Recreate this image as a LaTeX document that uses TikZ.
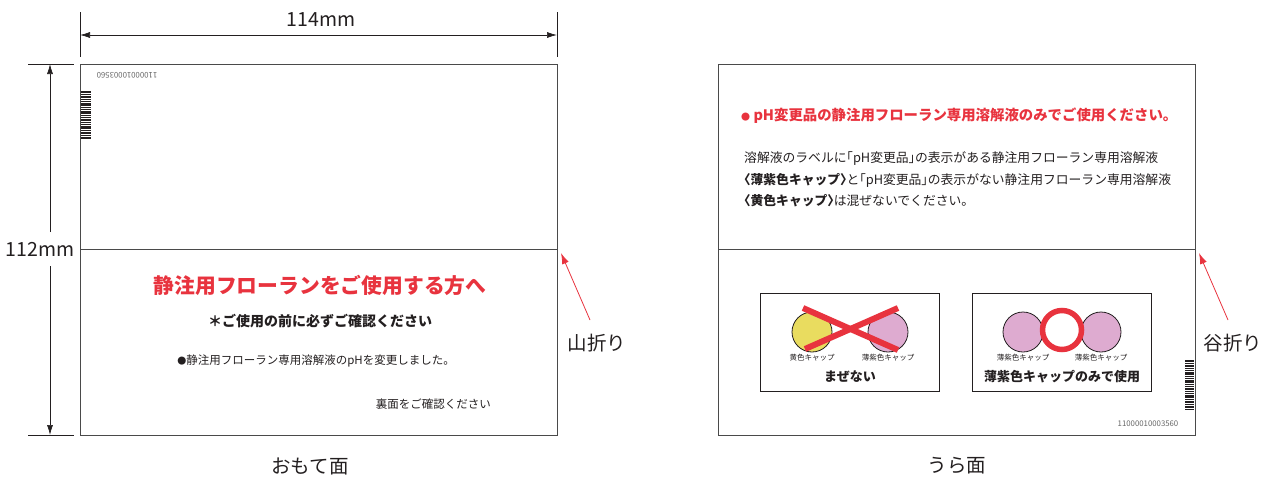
\documentclass[tikz,border=0pt]{standalone}
\usepackage{fontspec}
\setmainfont{Noto Sans CJK JP}
\usetikzlibrary{arrows.meta}
\definecolor{cred}{HTML}{E8333E}
\definecolor{cyel}{HTML}{E9DC5F}
\definecolor{cpur}{HTML}{DEABD0}
\definecolor{ink}{HTML}{231F20}
\definecolor{edge}{HTML}{4A4A4A}
\newcommand\hw[1]{{\addfontfeature{RawFeature=+halt}#1}}
\newcommand\smdot{{\fontsize{9}{9}\selectfont ●}}
\begin{document}
\begin{tikzpicture}[x=1pt,y=-1pt,
  panel/.style={draw=edge, line width=0.9pt, minimum width=477pt, minimum height=371pt, inner sep=0pt, outer sep=0pt},
  smallbox/.style={draw=ink, line width=0.9pt, minimum width=179pt, minimum height=98pt, inner sep=0pt, outer sep=0pt},
  fold/.style={draw=edge, line width=0.8pt},
  dimline/.style={draw=ink, line width=0.7pt},
  dimtip/.style={-{Latex[length=10pt,width=6pt]}},
  redarrow/.style={draw=cred, line width=0.8pt, -{Latex[length=11pt,width=7pt]}},
  big/.style={text=ink, font=\fontsize{19.5}{22}\selectfont, inner sep=0pt},
  title/.style={text=cred, font=\fontsize{20.8}{24}\selectfont\bfseries, inner sep=0pt},
  subhead/.style={text=ink, font=\fontsize{14}{16}\selectfont\bfseries, inner sep=0pt},
  body/.style={text=ink, font=\fontsize{11.5}{14}\selectfont, inner sep=0pt},
  rbody/.style={text=ink, font=\fontsize{12.8}{15}\selectfont, inner sep=0pt, anchor=west},
  redhead/.style={text=cred, font=\fontsize{14.4}{16}\selectfont\bfseries, inner sep=0pt, anchor=west},
  tiny/.style={text=ink, font=\fontsize{7.5}{9}\selectfont, inner sep=0pt},
  boxlabel/.style={text=ink, font=\fontsize{13}{15}\selectfont\bfseries, inner sep=0pt},
  code/.style={text=black!60, font=\fontsize{7.8}{9}\selectfont, inner sep=0pt},
  capring/.style={draw=ink, line width=0.8pt}
]
\useasboundingbox (0,0) rectangle (1268,479);

% ---------- front panel ----------
\node[panel] (front) at (318.5,249.5) {};
\coordinate (fl1) at (80,249);
\coordinate (fl2) at (557,249);
\draw[fold] (fl1) -- (fl2);

% top dimension
\coordinate (t1a) at (80,12); \coordinate (t1b) at (80,57);
\coordinate (t2a) at (557,12); \coordinate (t2b) at (557,57);
\draw[dimline] (t1a) -- (t1b);
\draw[dimline] (t2a) -- (t2b);
\coordinate (dl) at (80,35); \coordinate (dr) at (557,35);
\draw[dimline, {Latex[length=10pt,width=6pt]}-{Latex[length=10pt,width=6pt]}] (dl) -- (dr);
\node[big] (wlab) at (321,20) {114mm};

% left dimension
\coordinate (h1a) at (28,64); \coordinate (h1b) at (74,64);
\coordinate (h2a) at (28,435); \coordinate (h2b) at (74,435);
\draw[dimline] (h1a) -- (h1b);
\draw[dimline] (h2a) -- (h2b);
\node[big] (hlab) at (40,249) {112mm};
\coordinate (v1) at (50,232); \coordinate (v1t) at (50,64);
\coordinate (v2) at (50,266); \coordinate (v2t) at (50,435);
\draw[dimline, dimtip] (v1) -- (v1t);
\draw[dimline, dimtip] (v2) -- (v2t);

% barcode + code (front)
\foreach \o/\h in {0/2,3/1,5/2,8/1,10/1,12/2.5,16/1,18/1,20/3,24/1,26/1,28/2,31/1,33/1,35/2.5,39/1,41/2,44/1,46/1.5}
  \fill[ink] (81,91+\o) rectangle (91,91+\o+\h);
\node[code, rotate=180] (codeA) at (127,75) {11000010003560};

% front texts
\node[title] (ftitle) at (320,285) {静注用フローランをご使用する方へ};
\node[subhead] (fsub) at (320,321) {＊ご使用の前に必ずご確認ください};
\node[body] (fbul) at (316,361) {\smdot 静注用フローラン専用溶解液のpHを変更しました。};
\node[body, anchor=east] (fback) at (491,404) {裏面をご確認ください};

% mountain fold arrow
\node[big] (yama) at (597,343) {山折り};
\coordinate (yamaTail) at (590,320);
\coordinate (yamaTip) at (561,253);
\draw[redarrow] (yamaTail) -- (yamaTip);

\node[big] (omote) at (310,466) {おもて面};

% ---------- back panel ----------
\node[panel] (back) at (956.5,249.5) {};
\coordinate (bl1) at (718,249);
\coordinate (bl2) at (1195,249);
\draw[fold] (bl1) -- (bl2);

\node[redhead] (rhead) at (741,116) {\smdot\ pH変更品の静注用フローラン専用溶解液のみでご使用ください。};
\node[rbody] (rl1) at (744,159) {溶解液のラベルに\hw{「}pH変更品\hw{」}の表示がある静注用フローラン専用溶解液};
\node[rbody] (rl2) at (744,180) {{\bfseries \hw{〈}薄紫色キャップ\hw{〉}}と\hw{「}pH変更品\hw{」}の表示がない静注用フローラン専用溶解液};
\node[rbody] (rl3) at (744,201) {{\bfseries \hw{〈}黄色キャップ\hw{〉}}は混ぜないでください。};

% box 1 : do not mix
\node[smallbox] (box1) at (849.5,342) {};
\fill[cyel] (812,332) circle (20);
\draw[capring] (812,332) circle (20);
\fill[cpur] (888,332) circle (20);
\draw[capring] (888,332) circle (20);
\coordinate (xa1) at (803,308); \coordinate (xa2) at (898,350);
\coordinate (xb1) at (898,308); \coordinate (xb2) at (805,349);
\draw[cred, line width=6pt] (xa1) -- (xa2);
\draw[cred, line width=6pt] (xb1) -- (xb2);
\node[tiny] (y1) at (812,358) {黄色キャップ};
\node[tiny] (p1) at (888,358) {薄紫色キャップ};
\node[boxlabel] (mazenai) at (850,377) {まぜない};

% box 2 : only lilac caps
\node[smallbox] (box2) at (1061.5,342) {};
\fill[cpur] (1023,332) circle (20);
\draw[capring] (1023,332) circle (20);
\fill[cpur] (1101,332) circle (20);
\draw[capring] (1101,332) circle (20);
\draw[cred, line width=5.5pt, fill=white] (1062,330) circle (19.5);
\node[tiny] (p2) at (1023,358) {薄紫色キャップ};
\node[tiny] (p3) at (1101,358) {薄紫色キャップ};
\node[boxlabel] (onlyuse) at (1062,377) {薄紫色キャップのみで使用};

% barcode + code (back)
\foreach \o/\h in {0/2,3/1,5/2,8/1,10/1,12/2.5,16/1,18/1,20/3,24/1,26/1,28/2,31/1,33/1,35/2.5,39/1,41/2,44/1,46/1.5,49/1}
  \fill[ink] (1185,360+\o) rectangle (1194,360+\o+\h);
\node[code] (codeB) at (1148,424) {11000010003560};

% valley fold arrow
\node[big] (tani) at (1233,343) {谷折り};
\coordinate (taniTail) at (1228,320);
\coordinate (taniTip) at (1199,253);
\draw[redarrow] (taniTail) -- (taniTip);

\node[big] (ura) at (957,466) {うら面};
\end{tikzpicture}
\end{document}
